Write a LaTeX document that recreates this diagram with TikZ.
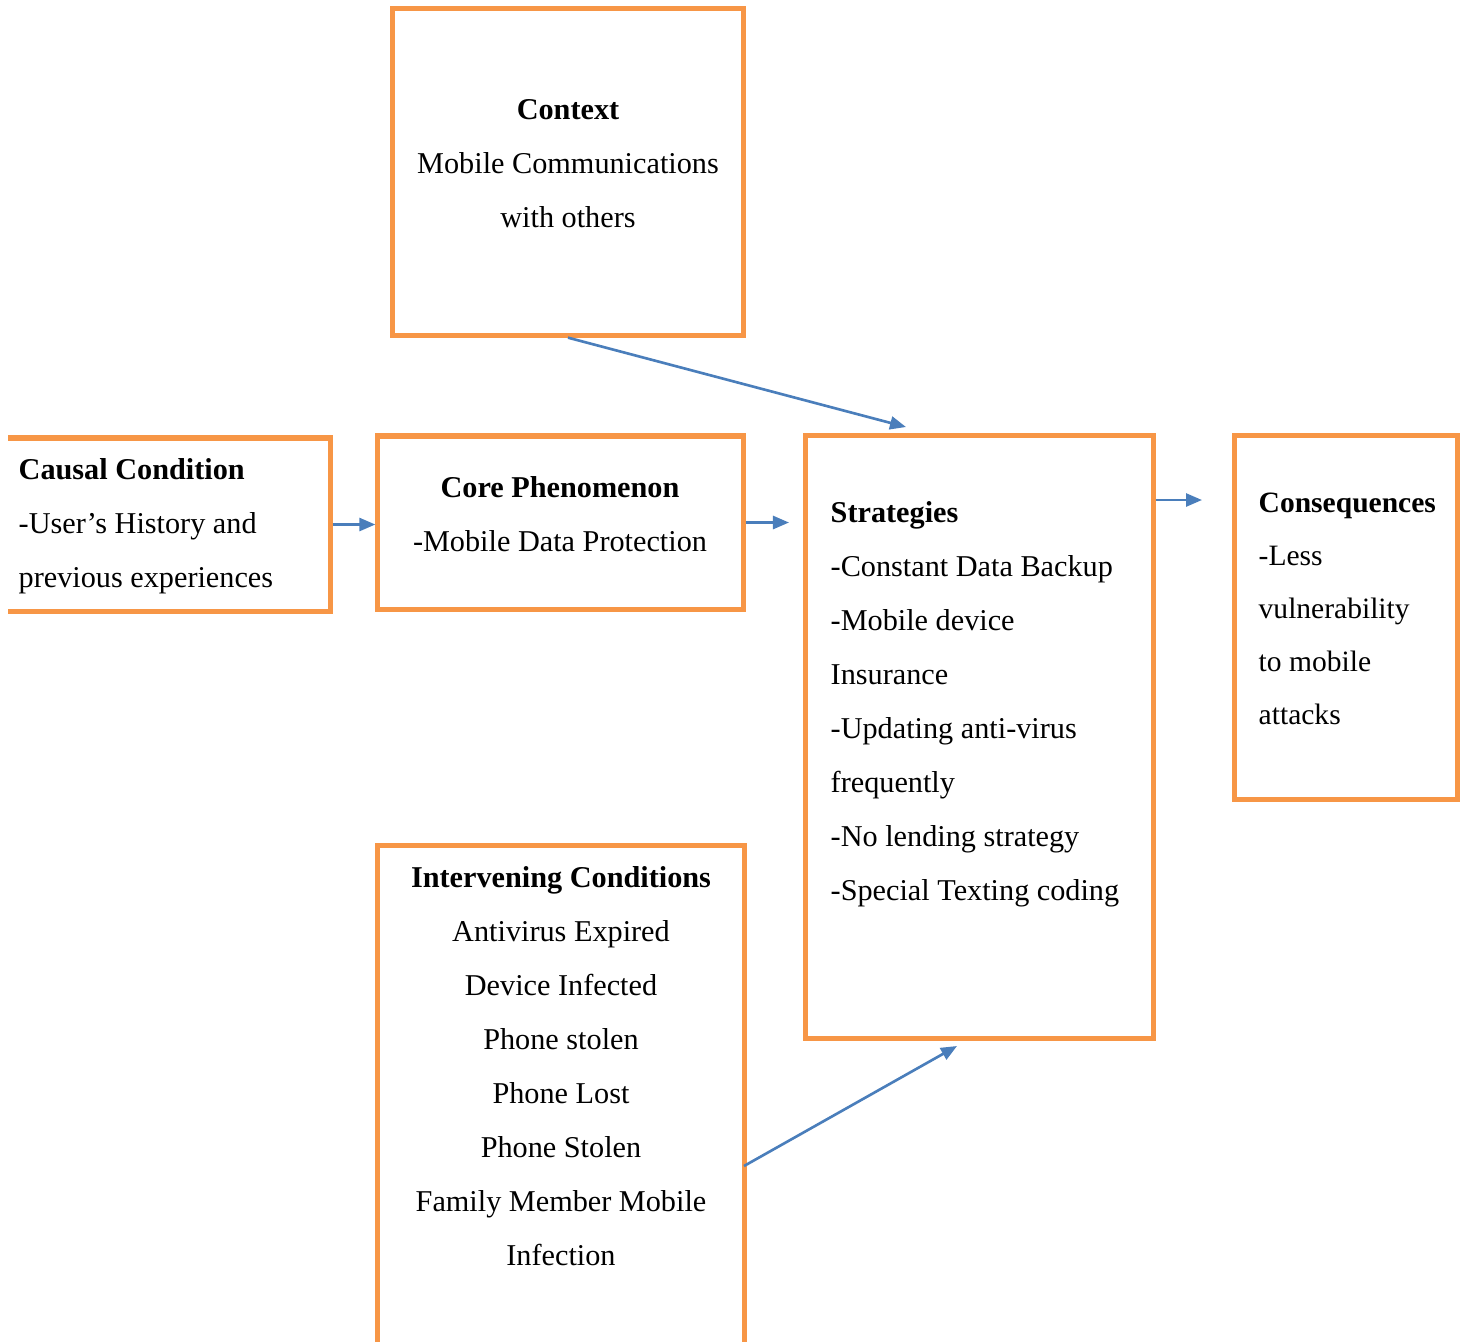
\documentclass[tikz,border=0pt]{standalone}
\usepackage{fontspec}
\setmainfont{Liberation Serif}
\usetikzlibrary{arrows.meta}
\definecolor{boxorange}{HTML}{F79646}
\definecolor{arrowblue}{HTML}{4A7EBB}
\begin{document}
\begin{tikzpicture}[x=0.01cm,y=-0.01cm,
  box/.style={draw=boxorange,line width=1.45pt,inner sep=0pt},
  txt/.style={inner sep=0pt,font=\fontsize{8.6}{15.36}\selectfont},
  flow/.style={draw=arrowblue,line width=0.75pt,-{Triangle[length=0.16cm,width=0.13cm]}}]
\useasboundingbox (0,0) rectangle (1466,1341);
\clip (0,0) rectangle (1466,1341);
% cajas
\node[box,minimum width=3.50cm,minimum height=3.26cm] (ctx) at (568,172) {};
\begin{scope}
\clip (8,0) rectangle (1466,1341);
\node[box,minimum width=3.52cm,minimum height=1.73cm] (cause) at (154,524.5) {};
\end{scope}
\node[box,minimum width=3.65cm,minimum height=1.73cm] (core) at (560.5,522.5) {};
\node[box,minimum width=3.47cm,minimum height=6.02cm] (strat) at (979.5,737) {};
\node[box,minimum width=2.22cm,minimum height=3.63cm] (cons) at (1346,617.5) {};
\node[box,minimum width=3.66cm,minimum height=6.00cm] (interv) at (561,1146) {};
% textos
\node[txt,align=center] (ctxtext) at (568,164) {\textbf{Context}\\Mobile Communications\\with others};
\node[txt,align=left,anchor=west] (causetext) at (18,526) {\textbf{Causal Condition}\\-User’s History and\\previous experiences};
\node[txt,align=center] (coretext) at (560,514) {\textbf{Core Phenomenon}\\-Mobile Data Protection};
\node[txt,align=left,anchor=west] (strattext) at (830,704) {\textbf{Strategies}\\-Constant Data Backup\\-Mobile device\\Insurance\\-Updating anti-virus\\frequently\\-No lending strategy\\-Special Texting coding};
\node[txt,align=left,anchor=west,font=\fontsize{8.4}{15.1}\selectfont] (constext) at (1258,609) {\textbf{Consequences}\\-Less\\vulnerability\\to mobile\\attacks};
\node[txt,align=center] (intervtext) at (561,1066) {\textbf{Intervening Conditions}\\Antivirus Expired\\Device Infected\\Phone stolen\\Phone Lost\\Phone Stolen\\Family Member Mobile\\Infection};
% flechas
\coordinate (ctxend) at (906,427);
\coordinate (coreend) at (789,522.5);
\coordinate (stratend) at (1202,500);
\coordinate (intervstart) at (744,1166);
\coordinate (intervend) at (957,1046);
\draw[flow] (ctx.south) -- (ctxend);
\draw[flow] (cause.east) -- (core.west |- cause.east);
\draw[flow] (core.east) -- (coreend);
\draw[flow] (strat.east |- stratend) -- (stratend);
\draw[flow] (intervstart) -- (intervend);
\end{tikzpicture}
\end{document}
